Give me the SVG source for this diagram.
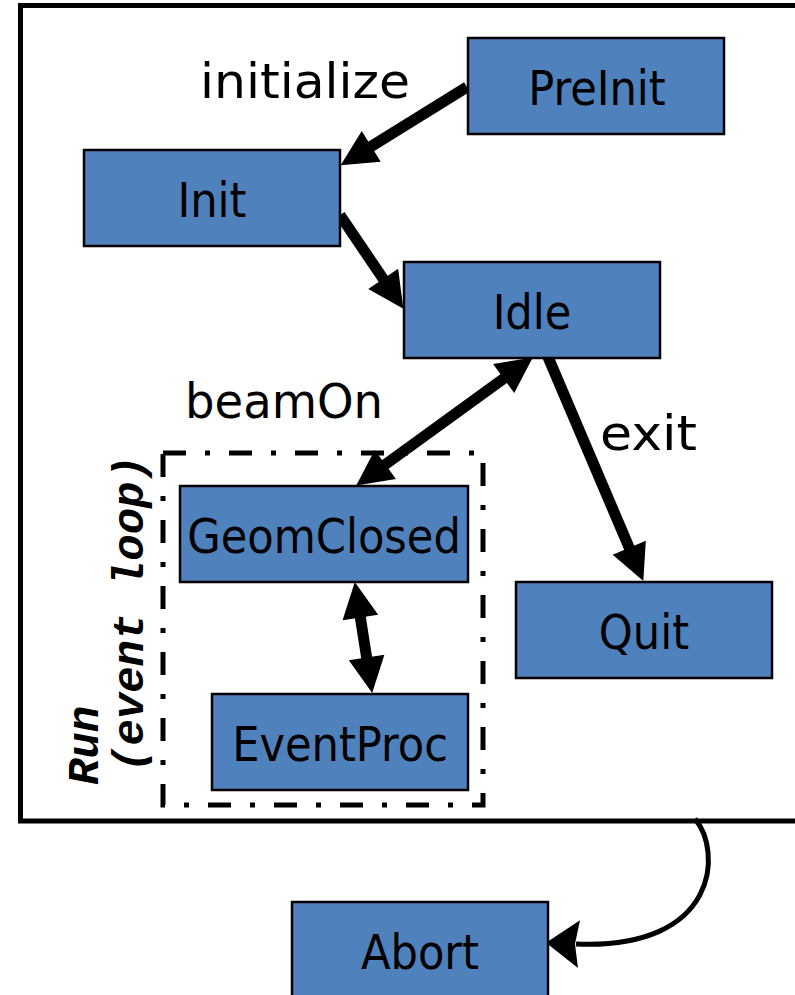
<svg xmlns="http://www.w3.org/2000/svg" width="795" height="995" viewBox="0 0 795 995">
<style>
.node rect{fill:#4F81BD;stroke:#000;stroke-width:2.5}
.node text{font-family:'DejaVu Sans Condensed','DejaVu Sans',sans-serif;font-stretch:condensed;font-size:48px;fill:#000;text-anchor:middle}
.lbl{font-family:'DejaVu Sans','Liberation Sans',sans-serif;font-size:48px;fill:#000}
.run{font-family:'Liberation Mono',monospace;font-weight:bold;font-style:italic;font-size:44px;fill:#000}
.conn{fill:none;stroke:#000;stroke-width:11}
</style>
<defs>
<marker id="ah" markerUnits="userSpaceOnUse" markerWidth="80" markerHeight="80" refX="0" refY="0" orient="auto-start-reverse" overflow="visible" viewBox="-40 -40 80 80">
<path d="M-5,-18 L31,0 L-5,18 Z" fill="#000"/>
</marker>
<marker id="ah2" markerUnits="userSpaceOnUse" markerWidth="80" markerHeight="80" refX="0" refY="0" orient="auto" overflow="visible" viewBox="-40 -40 80 80">
<path d="M-3,-24 L30,0 L-3,24 L1,0 Z" fill="#000"/>
</marker>
</defs>
<rect id="frame" x="20.5" y="5.5" width="800" height="815.5" fill="none" stroke="#000" stroke-width="5"/>
<rect id="runbox" x="163" y="453" width="320" height="352" fill="none" stroke="#000" stroke-width="5" stroke-dasharray="23 19 5 19"/>
<g id="run-label">
<text class="run" transform="translate(98,785) rotate(-90)">Run</text>
<text class="run" transform="translate(143,772) rotate(-90)">(event loop)</text>
</g>
<g id="labels">
<text class="lbl" x="200" y="98" textLength="210" lengthAdjust="spacingAndGlyphs">initialize</text>
<text class="lbl" x="185" y="418" textLength="198" lengthAdjust="spacingAndGlyphs">beamOn</text>
<text class="lbl" x="600" y="450" textLength="97" lengthAdjust="spacingAndGlyphs">exit</text>
</g>
<g id="connectors">
<line class="conn" x1="467" y1="87" x2="367" y2="149" marker-end="url(#ah)"/>
<line class="conn" x1="340" y1="215" x2="386" y2="283" marker-end="url(#ah)"/>
<line class="conn" x1="507.7" y1="375.6" x2="381.3" y2="467.4" marker-start="url(#ah)" marker-end="url(#ah)"/>
<line class="conn" x1="548" y1="357" x2="631.2" y2="552.4" marker-end="url(#ah)"/>
<line class="conn" x1="359.6" y1="612.6" x2="367.4" y2="662.4" marker-start="url(#ah)" marker-end="url(#ah)"/>
<path d="M695,819 C722,850 720,950 576,944" fill="none" stroke="#000" stroke-width="5" marker-end="url(#ah2)"/>
</g>
<g id="PreInit" class="node"><rect x="468" y="38" width="256" height="96"/><text x="597" y="105">PreInit</text></g>
<g id="Init" class="node"><rect x="84" y="150" width="256" height="96"/><text x="212" y="217">Init</text></g>
<g id="Idle" class="node"><rect x="404" y="262" width="256" height="96"/><text x="532" y="329">Idle</text></g>
<g id="GeomClosed" class="node"><rect x="180" y="486" width="288" height="96"/><text x="324" y="553">GeomClosed</text></g>
<g id="Quit" class="node"><rect x="516" y="582" width="256" height="96"/><text x="644" y="649">Quit</text></g>
<g id="EventProc" class="node"><rect x="212" y="694" width="256" height="96"/><text x="340" y="761">EventProc</text></g>
<g id="Abort" class="node"><rect x="292" y="902" width="256" height="96"/><text x="420" y="969">Abort</text></g>
</svg>
